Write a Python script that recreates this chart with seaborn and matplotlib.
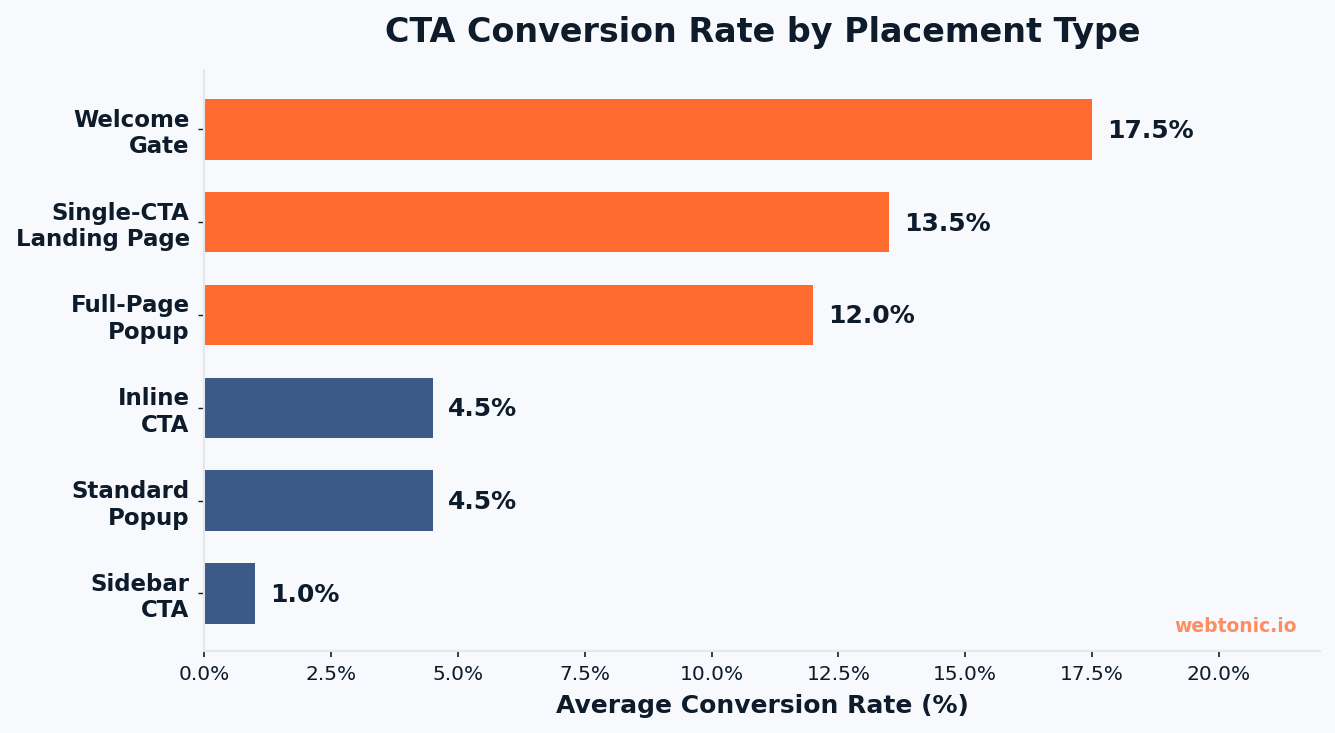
import pandas as pd
import matplotlib.pyplot as plt
import seaborn as sns
from matplotlib.ticker import FuncFormatter

# data
placements = ['Welcome\nGate', 'Single-CTA\nLanding Page', 'Full-Page\nPopup',
              'Inline\nCTA', 'Standard\nPopup', 'Sidebar\nCTA']
rates = [17.5, 13.5, 12.0, 4.5, 4.5, 1.0]
groups = ['high', 'high', 'high', 'low', 'low', 'low']

BG = '#f7f9fc'
NAVY = '#0d1b2a'
ORANGE = '#ff6b2e'
BLUE = '#3b5a87'
GRID = '#e3e6eb'

sns.set_style("white")
plt.rcParams['font.family'] = ['DejaVu Sans']

df = pd.DataFrame({'Placement': placements, 'Rate': rates, 'Group': groups})

fig, ax = plt.subplots(figsize=(13.35, 7.33), dpi=100)
fig.patch.set_facecolor(BG)
ax.set_facecolor(BG)

sns.barplot(data=df, y='Placement', x='Rate', hue='Group', orient='h',
            palette={'high': ORANGE, 'low': BLUE}, width=0.65, linewidth=0,
            dodge=False, legend=False, saturation=1, ax=ax)

# value labels
for i, v in enumerate(rates):
    ax.text(v + 0.3, i + 0.015, f'{v:.1f}%', va='center', ha='left',
            fontsize=18, fontweight='bold', color=NAVY)

ax.set_xlim(0, 22)
ax.set_ylim(5.62, -0.64)
ax.set_xticks([0, 2.5, 5, 7.5, 10, 12.5, 15, 17.5, 20])
ax.xaxis.set_major_formatter(FuncFormatter(lambda x, p: f'{x:.1f}%'))

ax.set_title('CTA Conversion Rate by Placement Type', fontsize=24,
             fontweight='bold', color=NAVY, pad=20)
ax.set_xlabel('Average Conversion Rate (%)', fontsize=18,
              fontweight='bold', color=NAVY, labelpad=7)
ax.set_ylabel('')

ax.tick_params(axis='x', bottom=True, labelsize=14.5, colors=NAVY,
               length=4.5, width=1.2, pad=6)
ax.tick_params(axis='y', left=True, labelsize=16.5, colors=NAVY,
               length=4.5, width=1, pad=6)
for lab in ax.get_yticklabels():
    lab.set_fontweight('bold')

for s in ['top', 'right']:
    ax.spines[s].set_visible(False)
for s in ['left', 'bottom']:
    ax.spines[s].set_color(GRID)
    ax.spines[s].set_linewidth(1.5)

ax.text(0.979, 0.025, 'webtonic.io', transform=ax.transAxes, ha='right',
        va='bottom', fontsize=13.5, fontweight='bold', color=ORANGE, alpha=0.75)

fig.subplots_adjust(left=0.153, right=0.989, top=0.9045, bottom=0.112)
plt.savefig('out.png', dpi=100, facecolor=BG)
